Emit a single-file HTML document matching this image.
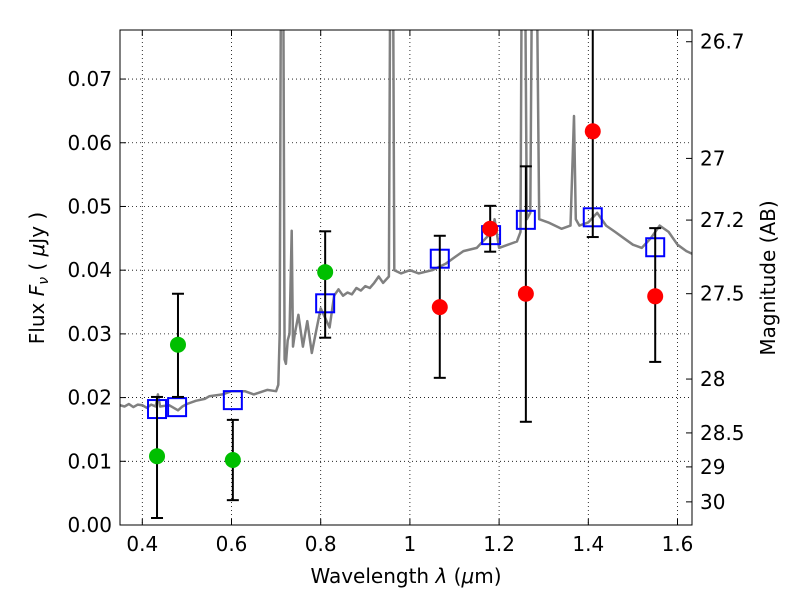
<!DOCTYPE html>
<html><head><meta charset="utf-8"><style>
body{margin:0;background:#fff;}
svg text{font-family:"DejaVu Sans","Liberation Sans",sans-serif;fill:#000;}
</style></head><body>
<svg id="chart" width="800" height="600" xmlns="http://www.w3.org/2000/svg">
<defs><clipPath id="clip"><rect x="120" y="30" width="572" height="495"/></clipPath></defs>
<g id="grid"></g>
<g id="spec" clip-path="url(#clip)"></g>
<g id="marks" clip-path="url(#clip)"></g>
<rect x="120" y="30" width="572" height="495" fill="none" stroke="#000" stroke-width="1"/>
<g id="axes"></g>
<text x="406" y="583" font-size="20" text-anchor="middle">Wavelength  <tspan font-style="italic">λ</tspan> (<tspan font-style="italic">μ</tspan>m)</text>
<text transform="translate(44,278) rotate(-90)" font-size="20" text-anchor="middle">Flux  <tspan font-style="italic">F</tspan><tspan font-style="italic" font-size="14" dy="4">ν</tspan><tspan dy="-4">  ( </tspan><tspan font-style="italic">μ</tspan>Jy )</text>
<text transform="translate(775,278) rotate(-90)" font-size="20" text-anchor="middle">Magnitude (AB)</text>
</svg>
<script>
const specX=[0.35,0.36,0.37,0.38,0.39,0.40,0.41,0.42,0.43,0.435,0.44,0.46,0.48,0.49,0.50,0.52,0.54,0.55,0.58,0.60,0.63,0.65,0.68,0.70,0.705,0.708,0.711,0.716,0.719,0.722,0.726,0.73,0.735,0.738,0.742,0.75,0.76,0.77,0.78,0.79,0.80,0.81,0.82,0.83,0.84,0.85,0.86,0.87,0.88,0.89,0.90,0.91,0.92,0.93,0.94,0.953,0.956,0.962,0.965,0.98,1.0,1.02,1.05,1.08,1.10,1.12,1.15,1.17,1.185,1.19,1.20,1.22,1.24,1.248,1.251,1.258,1.262,1.27,1.274,1.278,1.284,1.29,1.31,1.34,1.36,1.368,1.372,1.38,1.40,1.42,1.44,1.46,1.48,1.50,1.52,1.54,1.56,1.58,1.60,1.62,1.635];
const specY=[0.0188,0.0186,0.019,0.0185,0.0189,0.0188,0.0184,0.0189,0.0186,0.0205,0.0186,0.0188,0.0180,0.0186,0.0190,0.0195,0.0198,0.0202,0.0205,0.0210,0.0210,0.0205,0.0212,0.0210,0.0220,0.0300,0.0900,0.0900,0.0260,0.0253,0.0290,0.0300,0.0462,0.0280,0.0300,0.0330,0.0280,0.0320,0.0270,0.0305,0.0340,0.0325,0.0310,0.0360,0.0370,0.0360,0.0365,0.0362,0.0372,0.0368,0.0375,0.0372,0.0380,0.0390,0.0380,0.0390,0.0900,0.0900,0.0400,0.0395,0.0400,0.0395,0.0400,0.0410,0.0420,0.0430,0.0435,0.0450,0.0460,0.0480,0.0435,0.0440,0.0445,0.0460,0.0900,0.0900,0.0480,0.0490,0.0900,0.0900,0.0900,0.0480,0.0475,0.0465,0.0470,0.0642,0.0480,0.0470,0.0475,0.0490,0.0470,0.0460,0.0450,0.0440,0.0435,0.0450,0.0470,0.0460,0.0440,0.0430,0.0425];
const greenX=[0.433,0.48,0.603,0.81];
const greenY=[0.0108,0.0283,0.0102,0.0397];
const greenLo=[0.0011,0.0201,0.0039,0.0294];
const greenHi=[0.0201,0.0363,0.0165,0.0461];
const redX=[1.067,1.18,1.26,1.41,1.55];
const redY=[0.0342,0.0465,0.0363,0.0618,0.0359];
const redLo=[0.0231,0.0429,0.0162,0.0452,0.0256];
const redHi=[0.0454,0.0501,0.0563,0.0900,0.0466];
const sqX=[0.433,0.478,0.603,0.81,1.067,1.182,1.26,1.41,1.55];
const sqY=[0.0182,0.0185,0.0196,0.0348,0.0418,0.0455,0.0479,0.0483,0.0436];
const xTicks=[0.4,0.6,0.8,1.0,1.2,1.4,1.6];
const xTickLabels=["0.4","0.6","0.8","1","1.2","1.4","1.6"];
const yTicks=[0,0.01,0.02,0.03,0.04,0.05,0.06,0.07];
const yTickLabels=["0.00","0.01","0.02","0.03","0.04","0.05","0.06","0.07"];
const magTicks=[26.7,27,27.2,27.5,28,28.5,29,30];
const magTickLabels=["26.7","27","27.2","27.5","28","28.5","29","30"];

const X0=0.35,X1=1.6325,Y0=0,Y1=0.0777,L=120,R=692,T=30,B=525;
const xs=v=>L+(v-X0)/(X1-X0)*(R-L);
const ys=v=>B-(v-Y0)/(Y1-Y0)*(B-T);
const NS="http://www.w3.org/2000/svg";
function mk(tag,attrs,parent){const e=document.createElementNS(NS,tag);for(const k in attrs)e.setAttribute(k,attrs[k]);parent.appendChild(e);return e;}
const grid=document.getElementById('grid'),axes=document.getElementById('axes'),spec=document.getElementById('spec'),marks=document.getElementById('marks');

xTicks.forEach((t,i)=>{const x=xs(t);
 let g=mk('line',{x1:x,x2:x,y1:T,y2:B,stroke:'#000','stroke-width':0.8,'stroke-dasharray':'1,3'},grid);
 
 let a=mk('line',{x1:x,x2:x,y1:B,y2:B-6,stroke:'#000'},axes);
 let b=mk('line',{x1:x,x2:x,y1:T,y2:T+6,stroke:'#000'},axes);
 let tx=mk('text',{x:x,y:B+26,'font-size':20,'text-anchor':'middle'},axes);tx.textContent=xTickLabels[i];
 });
yTicks.forEach((t,i)=>{const y=ys(t);
 let g=mk('line',{x1:L,x2:R,y1:y,y2:y,stroke:'#000','stroke-width':0.8,'stroke-dasharray':'1,3'},grid);
 
 let a=mk('line',{x1:L,x2:L+6,y1:y,y2:y,stroke:'#000'},axes);
 let tx=mk('text',{x:L-8,y:y+7,'font-size':20,'text-anchor':'end'},axes);tx.textContent=yTickLabels[i];
 });
magTicks.forEach((m,i)=>{const y=ys(Math.pow(10,(23.9-m)/2.5));
 let a=mk('line',{x1:R,x2:R-6,y1:y,y2:y,stroke:'#000'},axes);
 let tx=mk('text',{x:R+8,y:y+7,'font-size':20,'text-anchor':'start'},axes);tx.textContent=magTickLabels[i];
 });

let d=specX.map((v,i)=>(i?'L':'M')+xs(v).toFixed(1)+','+ys(specY[i]).toFixed(1)).join(' ');
let p=mk('path',{d:d,fill:'none',stroke:'#808080','stroke-width':2.5,'stroke-linejoin':'round'},spec);


function errbar(x,lo,hi){const cx=xs(x);
 let l=mk('line',{x1:cx,x2:cx,y1:ys(lo),y2:ys(hi),stroke:'#000','stroke-width':2},marks);
 
 [lo,hi].forEach(v=>{let c=mk('line',{x1:cx-6,x2:cx+6,y1:ys(v),y2:ys(v),stroke:'#000','stroke-width':2},marks);
  });}
sqX.forEach((v,i)=>{let r=mk('rect',{x:xs(v)-9,y:ys(sqY[i])-9,width:18,height:18,fill:'none',stroke:'#0000ff','stroke-width':2},marks);
 });
greenX.forEach((v,i)=>{errbar(v,greenLo[i],greenHi[i]);
 let c=mk('circle',{cx:xs(v),cy:ys(greenY[i]),r:8,fill:'#00bf00'},marks);
 });
redX.forEach((v,i)=>{errbar(v,redLo[i],redHi[i]);
 let c=mk('circle',{cx:xs(v),cy:ys(redY[i]),r:8,fill:'#ff0000'},marks);
 });
</script>
</body></html>
